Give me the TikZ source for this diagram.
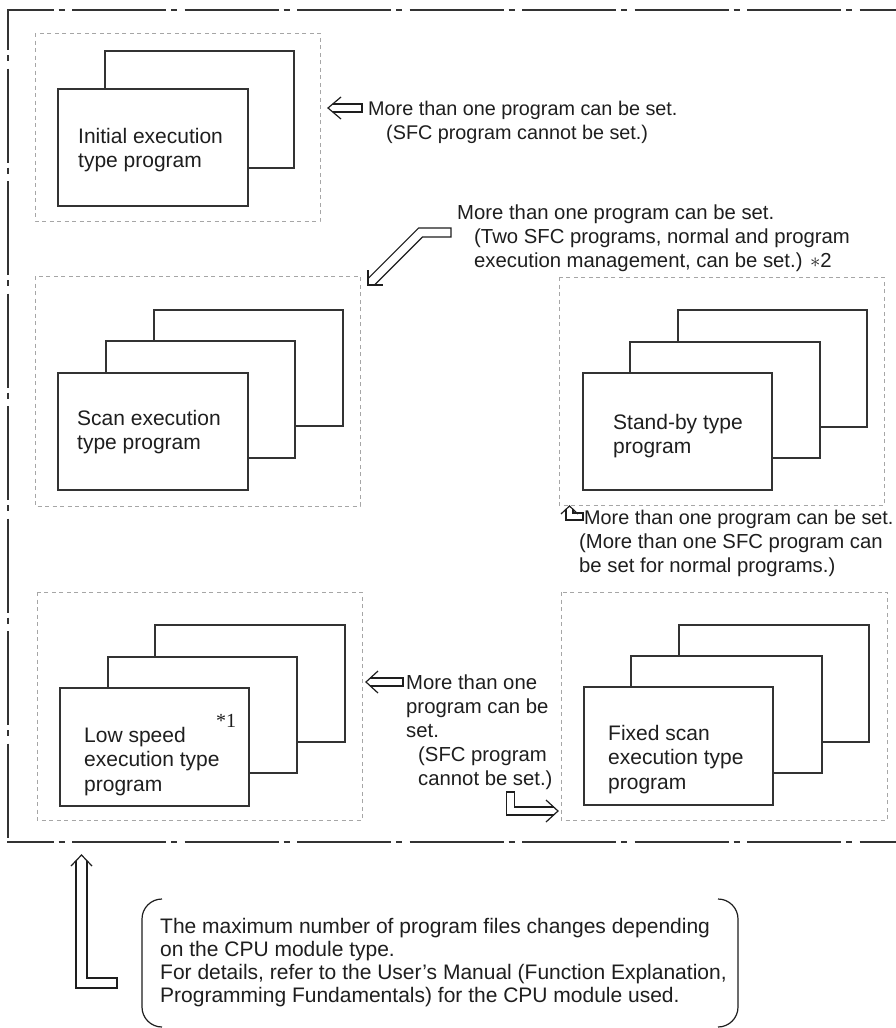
\documentclass[tikz,border=0pt]{standalone}
\usepackage{fontspec}
\setmainfont{Liberation Sans}
\newfontfamily\timesfont{Liberation Serif}
\definecolor{ink}{HTML}{333333}
\definecolor{txt}{HTML}{1E1E1E}
\definecolor{lgray}{HTML}{A6A6A6}
\newcommand\boxfont{\fontsize{21}{24.5}\selectfont}
\newcommand\annfont{\fontsize{20.3}{24}\selectfont}
\newcommand\annsmall{\fontsize{19.8}{24}\selectfont}
\newcommand\notefont{\fontsize{21}{23.2}\selectfont}
\begin{document}
\begin{tikzpicture}[x=1pt,y=-1pt,
  framel/.style={draw=ink,line width=2pt,dash pattern=on 94pt off 5pt on 6pt off 7.5pt},
  area/.style={draw=lgray,line width=1pt,dash pattern=on 4pt off 3.5pt},
  pbox/.style={draw=ink,line width=1.5pt,fill=white},
  harrow/.style={draw=txt,line width=1.2pt,line join=miter},
  btext/.style={anchor=base west,inner sep=0pt,text=txt,font=\boxfont},
  atext/.style={anchor=base west,inner sep=0pt,text=txt,font=\annfont},
  stext/.style={anchor=base west,inner sep=0pt,text=txt,font=\annsmall},
  ntext/.style={anchor=base west,inner sep=0pt,text=txt,font=\notefont},
]
\useasboundingbox (0,0) rectangle (896,1028);
\fill[white] (0,0) rectangle (896,1028);

% outer frame (dash-dot)
\draw[framel,dash phase=47.5pt] (7,10) -- (896,10);
\draw[framel,dash phase=54pt] (8,10) -- (8,842);
\draw[framel,dash phase=47.5pt] (7,842) -- (896,842);

% dashed areas
\draw[area] (35,33) rectangle (320,221);
\draw[area] (35,276) rectangle (360,506);
\draw[area] (559,277) rectangle (884,505);
\draw[area] (37,592) rectangle (362,820);
\draw[area] (561,592) rectangle (887,820);

% initial execution type program
\draw[pbox] (105,51) rectangle (294,168);
\draw[pbox] (58,89) rectangle (248,206);
\node[btext] (tinit) at (78,143) {\vtop{\hbox{Initial execution}\hbox{type program}}};

% scan execution type program
\draw[pbox] (154,310) rectangle (343,426);
\draw[pbox] (106,341) rectangle (295,458);
\draw[pbox] (58,373) rectangle (248,490);
\node[btext] (tscan) at (77,425) {\vtop{\hbox{Scan execution}\hbox{type program}}};

% stand-by type program
\draw[pbox] (678,310) rectangle (867,427);
\draw[pbox] (630,342) rectangle (820,458);
\draw[pbox] (583,373) rectangle (772,490);
\node[btext] (tstand) at (613,429) {\vtop{\hbox{Stand-by type}\hbox{program}}};

% low speed execution type program
\draw[pbox] (155,625) rectangle (345,742);
\draw[pbox] (108,657) rectangle (297,773);
\draw[pbox] (60,688) rectangle (249,806);
\node[btext] (tlow) at (84,742) {\vtop{\hbox{Low speed}\hbox{execution type}\hbox{program}}};
\node[anchor=base west,inner sep=0pt,text=txt,font=\timesfont\fontsize{20}{24}\selectfont] (star1) at (216,727) {*1};

% fixed scan execution type program
\draw[pbox] (679,625) rectangle (869,742);
\draw[pbox] (631,656) rectangle (822,773);
\draw[pbox] (584,687) rectangle (773,805);
\node[btext] (tfixed) at (608,740) {\vtop{\hbox{Fixed scan}\hbox{execution type}\hbox{program}}};

% annotation 1 (initial)
\draw[harrow] (341,97) -- (328,108) -- (341,119);
\draw[harrow] (332.7,104) -- (362,104) -- (362,112) -- (332.7,112);
\node[stext] (a1) at (368,115) {\vtop{\hbox{More than one program can be set.}\hbox{\kern18pt(SFC program cannot be set.)}}};

% annotation 2 (scan)
\draw[harrow] (368,270) -- (368,285) -- (383,285);
\draw[harrow] (368,278.6) -- (418.6,228) -- (451,228) -- (451,237) -- (422.4,237) -- (374.4,285);
\node[atext] (a2) at (457,219) {\vtop{\hbox{More than one program can be set.}\hbox{\kern17pt(Two SFC programs, normal and program}\hbox{\kern17pt execution management, can be set.) {\fontsize{22}{22}\selectfont$\ast$}2}}};

% annotation 3 (stand-by)
\draw[harrow] (561,514) -- (569.5,506) -- (578,514);
\draw[harrow] (566,509.3) -- (566,520) -- (583,520) -- (583,513) -- (573,513) -- (573,509.3);
\node[stext] (a3) at (584,524) {More than one program can be set.};
\node[atext] (a3b) at (579,548) {\vtop{\hbox{(More than one SFC program can}\hbox{be set for normal programs.)}}};

% annotation 4 (low speed / fixed scan)
\draw[harrow] (378,671) -- (366,682) -- (378,693);
\draw[harrow] (370.4,678) -- (403,678) -- (403,686) -- (370.4,686);
\node[atext] (a4) at (406,689) {\vtop{\hbox{More than one}\hbox{program can be}\hbox{set.}\hbox{\kern12pt(SFC program}\hbox{\kern12pt cannot be set.)}}};
\draw[harrow] (546,800) -- (558,811) -- (546,822);
\draw[harrow] (553.6,807) -- (514.5,807) -- (514.5,792) -- (506.5,792) -- (506.5,815) -- (553.6,815);

% bottom arrow and note
\draw[harrow] (71,866) -- (81.5,855) -- (92,866);
\draw[harrow] (76,860.8) -- (76,988) -- (117,988) -- (117,978) -- (87,978) -- (87,860.8);
\draw[draw=txt,line width=1.2pt,rounded corners=20pt] (162,899) -- (142,899) -- (142,1027) -- (162,1027);
\draw[draw=txt,line width=1.2pt,rounded corners=20pt] (718,899) -- (738,899) -- (738,1027) -- (718,1027);
\node[ntext] (note) at (160,933) {\vtop{\hbox{The maximum number of program files changes depending}\hbox{on the CPU module type.}\hbox{For details, refer to the User's Manual (Function Explanation,}\hbox{Programming Fundamentals) for the CPU module used.}}};
\end{tikzpicture}
\end{document}
